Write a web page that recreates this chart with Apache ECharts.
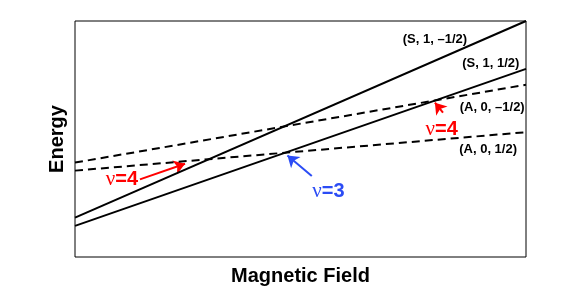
<!DOCTYPE html>
<html><head><meta charset="utf-8">
<script src="https://cdn.jsdelivr.net/npm/echarts@6/dist/echarts.min.js"></script>
<style>html,body{margin:0;padding:0;background:#fff}#c{width:581px;height:291px}</style>
</head><body><div id="c"></div>
<script>
// Field positions (normalized) and energies (normalized)
var fieldX = [0, 1];
var energyS1m = [0.167, 1.0];   // (S, 1, -1/2)
var energyS1p = [0.132, 0.797]; // (S, 1, 1/2)
var energyA0m = [0.400, 0.730]; // (A, 0, -1/2)
var energyA0p = [0.366, 0.529]; // (A, 0, 1/2)

var stateLabels = ['(S, 1, \u20131/2)', '(S, 1, 1/2)', '(A, 0, \u20131/2)', '(A, 0, 1/2)'];
var stateLabelPos = [[0.798, 0.920], [0.922, 0.822], [0.925, 0.634], [0.916, 0.456]];

var nuLabels = ['4', '4', '3'];
var nuColors = ['#ff0000', '#ff0000', '#2b4cf5'];
var nuLabelPos = [[0.813, 0.540], [0.104, 0.329], [0.562, 0.277]];
var arrowFrom = [[0.816, 0.612], [0.144, 0.329], [0.525, 0.343]];
var arrowTo = [[0.798, 0.654], [0.244, 0.395], [0.471, 0.430]];

function pairs(xs, ys) { return xs.map(function (x, i) { return [x, ys[i]]; }); }

var chart = echarts.init(document.getElementById('c'));
var series = [];
function lineSeries(ys, dashed) {
  return {
    type: 'line', data: pairs(fieldX, ys), symbol: 'none', silent: true,
    lineStyle: { color: '#000', width: 2, type: dashed ? [8, 5] : 'solid' }
  };
}
series.push(lineSeries(energyS1m, false));
series.push(lineSeries(energyS1p, false));
series.push(lineSeries(energyA0m, true));
series.push(lineSeries(energyA0p, true));

series.push({
  type: 'scatter', symbolSize: 0, silent: true, itemStyle: { opacity: 1 },
  data: stateLabels.map(function (t, i) { return { value: stateLabelPos[i], name: t }; }),
  label: { show: true, position: 'inside', formatter: '{b}', color: '#000', opacity: 1,
    fontFamily: 'Liberation Sans', fontWeight: 'bold', fontSize: 13 }
});

series.push({
  type: 'scatter', symbolSize: 0, silent: true, itemStyle: { opacity: 1 },
  data: nuLabels.map(function (t, i) {
    return { value: nuLabelPos[i], name: t,
      label: { rich: {
        n: { fontFamily: 'Liberation Serif', fontSize: 21, color: nuColors[i] },
        v: { fontFamily: 'Liberation Sans', fontWeight: 'bold', fontSize: 20, color: nuColors[i] } } } };
  }),
  label: { show: true, position: 'inside', opacity: 1, formatter: function (p) { return '{n|\u03bd}{v|=' + p.name + '}'; } }
});

series.push({
  type: 'lines', coordinateSystem: 'cartesian2d', silent: true,
  symbol: ['none', 'arrow'], symbolSize: 11,
  data: arrowFrom.map(function (f, i) {
    return { coords: [f, arrowTo[i]], lineStyle: { color: nuColors[i], width: 2, opacity: 1 } };
  })
});

chart.setOption({
  animation: false,
  grid: { left: 75, right: 55, top: 21, bottom: 33, show: true, borderColor: '#000', borderWidth: 1 },
  xAxis: { type: 'value', min: 0, max: 1, axisLine: { show: false }, axisTick: { show: false },
    axisLabel: { show: false }, splitLine: { show: false },
    name: 'Magnetic Field', nameLocation: 'middle', nameGap: 9,
    nameTextStyle: { fontFamily: 'Liberation Sans', fontWeight: 'bold', fontSize: 20, color: '#000' } },
  yAxis: { type: 'value', min: 0, max: 1, axisLine: { show: false }, axisTick: { show: false },
    axisLabel: { show: false }, splitLine: { show: false },
    name: 'Energy', nameLocation: 'middle', nameGap: 8,
    nameTextStyle: { fontFamily: 'Liberation Sans', fontWeight: 'bold', fontSize: 20, color: '#000' } },
  series: series
});
</script></body></html>
